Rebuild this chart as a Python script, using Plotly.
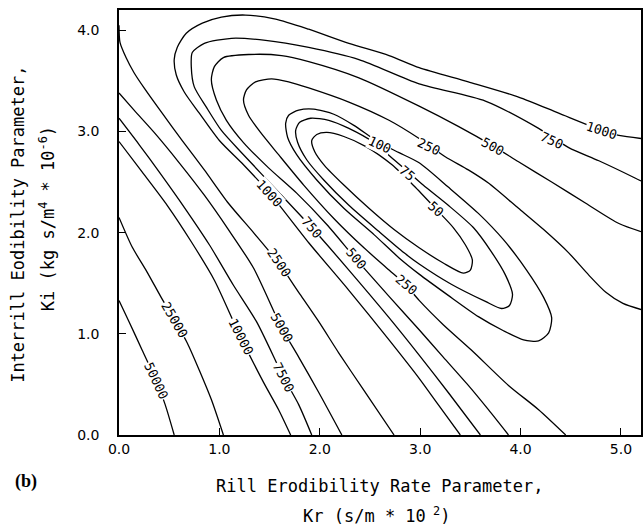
import plotly.graph_objects as go

# ---------------- contour traces (Kr, Ki) ----------------
C50000_KR = [0.0, 0.10, 0.23, 0.37, 0.46, 0.55]
C50000_KI = [1.33, 1.12, 0.84, 0.54, 0.30, 0.0]

C25000_KR = [0.0, 0.13, 0.28, 0.42, 0.55, 0.68, 0.80, 0.92, 1.04]
C25000_KI = [2.15, 1.86, 1.61, 1.36, 1.14, 0.91, 0.64, 0.35, 0.0]

C10000_KR = [0.0, 0.23, 0.48, 0.72, 0.95, 1.21, 1.44, 1.59, 1.71]
C10000_KI = [2.90, 2.60, 2.27, 1.91, 1.53, 0.97, 0.52, 0.25, 0.0]

C7500_KR = [0.0, 0.20, 0.40, 0.65, 0.90, 1.14, 1.37, 1.64, 1.79, 1.92]
C7500_KI = [3.13, 2.87, 2.60, 2.25, 1.88, 1.48, 1.12, 0.57, 0.30, 0.0]

C5000_KR = [0.0, 0.15, 0.35, 0.60, 0.85, 1.09, 1.34, 1.62, 1.79, 1.99, 2.22]
C5000_KI = [3.38, 3.21, 2.99, 2.69, 2.37, 2.03, 1.65, 1.06, 0.77, 0.42, 0.0]

C2500_KR = [0.0, 0.01, 0.07, 0.15, 0.25, 0.43, 0.63, 0.85, 1.09, 1.34, 1.59, 1.79, 1.99, 2.19, 2.44, 2.74]
C2500_KI = [4.05, 3.88, 3.73, 3.58, 3.43, 3.18, 2.91, 2.62, 2.29, 2.00, 1.70, 1.41, 1.12, 0.81, 0.44, 0.0]

C1000_KR = [3.40, 3.18, 2.99, 2.69, 2.29, 1.89, 1.50, 1.24, 1.00, 0.80, 0.65, 0.57, 0.55, 0.58, 0.67,
            0.83, 1.02, 1.26, 1.56, 1.89, 2.29, 2.69, 2.99, 3.48, 3.98, 4.38, 4.81, 4.98, 5.20]
C1000_KI = [0.0, 0.30, 0.56, 0.94, 1.43, 1.90, 2.39, 2.67, 2.91, 3.18, 3.39, 3.56, 3.71, 3.83, 3.97,
            4.07, 4.13, 4.15, 4.11, 4.01, 3.87, 3.75, 3.63, 3.49, 3.34, 3.18, 3.01, 2.96, 2.93]

C750_KR = [3.60, 3.28, 2.99, 2.69, 2.29, 1.92, 1.59, 1.24, 1.02, 0.87, 0.75, 0.72, 0.73, 0.85, 1.12,
           1.46, 1.89, 2.39, 2.99, 3.65, 4.18, 4.48, 4.78, 5.14, 5.20]
C750_KI = [0.0, 0.42, 0.79, 1.16, 1.63, 2.05, 2.40, 2.77, 3.01, 3.24, 3.44, 3.64, 3.78, 3.87, 3.92,
           3.90, 3.83, 3.71, 3.47, 3.30, 3.03, 2.84, 2.71, 2.54, 2.51]

C500_KR = [3.88, 3.68, 3.48, 3.23, 2.99, 2.69, 2.36, 2.07, 1.77, 1.49, 1.24, 1.07, 0.97, 0.92, 0.95,
           1.04, 1.29, 1.62, 1.89, 2.39, 2.99, 3.38, 3.72, 3.98, 4.31, 4.65, 4.98, 5.20]
C500_KI = [0.0, 0.25, 0.49, 0.77, 1.04, 1.37, 1.74, 2.08, 2.39, 2.64, 2.89, 3.11, 3.31, 3.51, 3.64,
           3.73, 3.76, 3.75, 3.69, 3.53, 3.25, 3.05, 2.86, 2.70, 2.50, 2.29, 2.09, 2.01]

C250_KR = [4.45, 4.18, 3.88, 3.51, 3.23, 2.99, 2.86, 2.69, 2.44, 2.14, 1.84, 1.59, 1.41, 1.29, 1.24,
           1.27, 1.36, 1.52, 1.69, 1.89, 2.29, 2.69, 2.99, 3.25, 3.48, 3.68, 3.98, 4.23, 4.48, 4.68,
           4.85, 5.02, 5.20]
C250_KI = [0.0, 0.25, 0.49, 0.84, 1.09, 1.33, 1.48, 1.63, 1.85, 2.14, 2.47, 2.77, 2.99, 3.16, 3.31,
           3.41, 3.49, 3.52, 3.49, 3.43, 3.29, 3.11, 2.93, 2.75, 2.62, 2.49, 2.24, 2.03, 1.80, 1.58,
           1.41, 1.30, 1.24]

C100_KR = [1.66, 1.69, 1.79, 1.94, 2.14, 2.34, 2.59, 2.79, 2.99, 3.28, 3.58, 3.83, 4.06, 4.23, 4.31,
           4.28, 4.18, 4.03, 3.83, 3.58, 3.28, 2.99, 2.79, 2.54, 2.24, 1.97, 1.77, 1.68, 1.66]
C100_KI = [3.08, 3.16, 3.21, 3.22, 3.17, 3.06, 2.89, 2.79, 2.69, 2.45, 2.19, 1.93, 1.63, 1.36, 1.16,
           1.01, 0.93, 0.94, 1.03, 1.17, 1.38, 1.59, 1.75, 1.98, 2.24, 2.52, 2.77, 2.94, 3.08]

C75_KR = [1.76, 1.80, 1.91, 2.09, 2.29, 2.54, 2.74, 2.87, 3.03, 3.28, 3.53, 3.71, 3.85, 3.92, 3.89,
          3.81, 3.65, 3.31, 2.99, 2.84, 2.59, 2.29, 2.04, 1.87, 1.78, 1.76]
C75_KI = [3.01, 3.09, 3.13, 3.11, 3.03, 2.89, 2.72, 2.61, 2.47, 2.27, 2.05, 1.81, 1.58, 1.39, 1.28,
          1.25, 1.32, 1.49, 1.69, 1.80, 2.01, 2.27, 2.52, 2.72, 2.89, 3.01]

C50_KR = [1.92, 1.97, 2.07, 2.24, 2.46, 2.72, 2.94, 3.16, 3.33, 3.45, 3.52, 3.50, 3.43, 3.23, 2.99,
          2.74, 2.49, 2.24, 2.05, 1.95, 1.92]
C50_KI = [2.91, 2.97, 2.99, 2.95, 2.85, 2.67, 2.46, 2.23, 2.05, 1.88, 1.73, 1.63, 1.60, 1.70, 1.85,
          2.03, 2.24, 2.47, 2.66, 2.80, 2.91]

# contour labels: text and the point on the line where it sits
LABEL_TEXT = ["50000", "25000", "10000", "7500", "5000", "2500", "1000", "750", "500", "250",
              "100", "75", "50", "250", "500", "750", "1000"]
LABEL_KR = [0.37, 0.55, 1.21, 1.64, 1.62, 1.59, 1.50, 1.92, 2.36, 2.86,
            2.59, 2.87, 3.16, 3.08, 3.72, 4.31, 4.81]
LABEL_KI = [0.54, 1.14, 0.97, 0.57, 1.06, 1.70, 2.39, 2.05, 1.74, 1.49,
            2.87, 2.58, 2.23, 2.85, 2.85, 2.91, 3.01]
LABEL_ANGLE = [65, 60, 63, 63, 60, 56, 48, 50, 50, 40, 25, 40, 42, 25, 28, 25, 18]

X_TICKS = [0, 1, 2, 3, 4, 5]
X_TICK_TEXT = ["0.0", "1.0", "2.0", "3.0", "4.0", "5.0"]
Y_TICKS = [0, 1, 2, 3, 4]
Y_TICK_TEXT = ["0.0", "1.0", "2.0", "3.0", "4.0"]

CONTOURS = [
    (C50000_KR, C50000_KI), (C25000_KR, C25000_KI), (C10000_KR, C10000_KI),
    (C7500_KR, C7500_KI), (C5000_KR, C5000_KI), (C2500_KR, C2500_KI),
    (C1000_KR, C1000_KI), (C750_KR, C750_KI), (C500_KR, C500_KI),
    (C250_KR, C250_KI), (C100_KR, C100_KI), (C75_KR, C75_KI), (C50_KR, C50_KI),
]

fig = go.Figure()
for kr, ki in CONTOURS:
    fig.add_trace(go.Scatter(
        x=kr, y=ki, mode="lines",
        line=dict(color="black", width=1.3, shape="spline", smoothing=0.7),
        hoverinfo="skip", showlegend=False,
    ))

LABEL_FONT = dict(family="DejaVu Sans Mono", size=13, color="black")
for t, x, y, a in zip(LABEL_TEXT, LABEL_KR, LABEL_KI, LABEL_ANGLE):
    fig.add_annotation(x=x, y=y, xref="x", yref="y", text=t, textangle=a,
                       xanchor="center", yanchor="middle",
                       showarrow=False, bgcolor="white", borderpad=0, font=LABEL_FONT)

TITLE_FONT = dict(family="DejaVu Sans Mono", size=17, color="black")
def paper_note(text, x, y, angle=0, font=TITLE_FONT):
    fig.add_annotation(x=x, y=y, xref="paper", yref="paper", showarrow=False,
                       xanchor="center", yanchor="middle", textangle=angle,
                       text=text, font=font)

paper_note("Rill Erodibility Rate Parameter,", 0.50, -0.12)
paper_note("Kr (s/m * 10<sup> 2</sup>)", 0.493, -0.188)
paper_note("Interrill Eodibility Parameter,", -0.195, 0.495, angle=-90)
paper_note("Ki (kg s/m<sup>4</sup> * 10<sup>-6</sup>)", -0.138, 0.51, angle=-90)
paper_note("<b>(b)</b>", -0.178, -0.11,
           font=dict(family="Liberation Serif", size=18, color="black"))

TICK_FONT = dict(family="DejaVu Sans", size=14, color="black")
axis_common = dict(showgrid=False, zeroline=False, showline=True, linecolor="black",
                   linewidth=1.5, mirror=True, ticks="inside", ticklen=7, tickwidth=1.2,
                   tickcolor="black", tickfont=TICK_FONT)
fig.update_xaxes(range=[0, 5.2], tickvals=X_TICKS, ticktext=X_TICK_TEXT,
                 ticklabelstandoff=0, **axis_common)
fig.update_yaxes(range=[0, 4.2], tickvals=Y_TICKS, ticktext=Y_TICK_TEXT,
                 ticklabelstandoff=15, **axis_common)

fig.update_layout(width=644, height=528, margin=dict(l=119, r=1, t=10, b=93),
                  paper_bgcolor="white", plot_bgcolor="white", showlegend=False)

fig.write_html("out.html")
